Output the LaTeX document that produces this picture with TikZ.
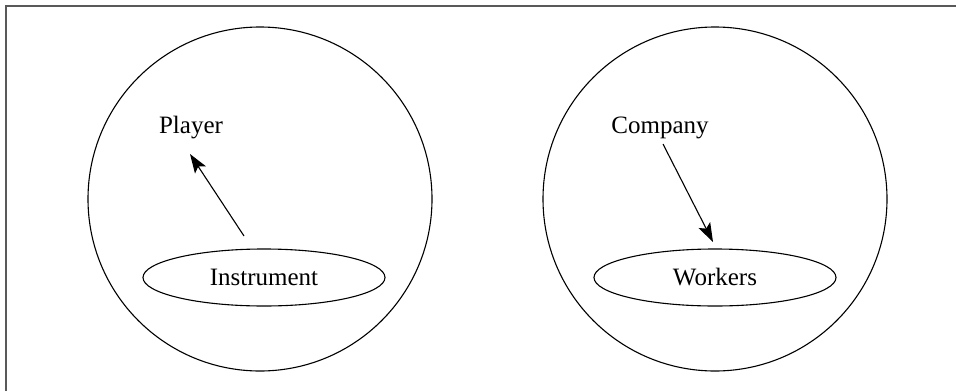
\documentclass[tikz,border=0pt]{standalone}
\usepackage{fontspec}
\setmainfont{Liberation Serif}
\usetikzlibrary{shapes.geometric,arrows.meta}

\tikzset{
  world/.style={draw, circle, minimum size=344pt, inner sep=0pt, line width=1.1pt},
  member/.style={draw, ellipse, minimum width=242pt, minimum height=57pt, inner sep=0pt, line width=1.1pt},
  label/.style={anchor=base, inner sep=0pt}
}

\begin{document}
\begin{tikzpicture}[x=1pt, y=-1pt, >={Stealth[length=19pt,width=13pt,inset=4pt]}, line width=1.1pt,
    font=\fontsize{25}{30}\selectfont]
    \useasboundingbox (0,0) rectangle (956,391);

    % Frame
    \draw[black!65, line width=2pt] (5.5,391) -- (5.5,5.5) -- (956,5.5);

    % Circles
    \node[world] (orchestra) at (260,199) {};
    \node[world] (firm) at (715,199) {};

    % Ellipses
    \node[member] (instrument) at (264,277.5) {Instrument};
    \node[member] (workers) at (715,277.5) {Workers};

    % Labels
    \node[label] (player) at (191,133) {Player};
    \node[label] (company) at (660,133) {Company};

    % Arrows
    \coordinate (playerfoot) at (244,236);
    \coordinate (playertip) at (190,154);
    \draw[->] (playerfoot) -- (playertip);

    \coordinate (companyfoot) at (663,144);
    \coordinate (workerstip) at (713,242);
    \draw[->] (companyfoot) -- (workerstip);
\end{tikzpicture}
\end{document}
